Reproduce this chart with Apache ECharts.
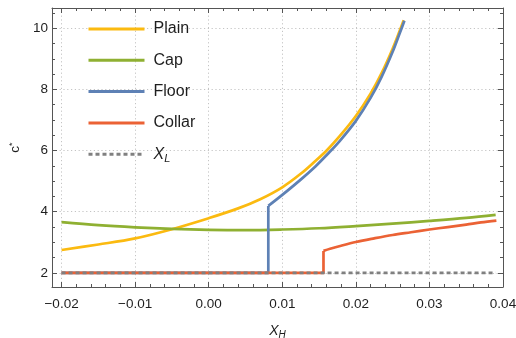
<!DOCTYPE html>
<html>
<head>
<meta charset="utf-8">
<script src="https://cdn.jsdelivr.net/npm/echarts@6/dist/echarts.min.js"></script>
<style>html,body{margin:0;padding:0;background:#fff}#c{width:516px;height:338px}</style>
</head>
<body>
<div id="c"></div>
<script>
// ---- data ----
const seriesNames = ['Plain', 'Cap', 'Floor', 'Collar', 'XL'];

const plainX = [-0.02, -0.015, -0.01, -0.005, 0, 0.004, 0.007, 0.01, 0.0125, 0.0145, 0.0161, 0.0178, 0.02, 0.022, 0.0235, 0.025, 0.026, 0.0265];
const plainY = [2.75, 2.93, 3.13, 3.43, 3.79, 4.11, 4.41, 4.80, 5.24, 5.66, 6.02, 6.47, 7.13, 7.86, 8.53, 9.33, 9.94, 10.26];

const capX = [-0.02, -0.015, -0.01, -0.005, 0, 0.005, 0.01, 0.015, 0.02, 0.025, 0.03, 0.035, 0.039];
const capY = [3.66, 3.56, 3.49, 3.44, 3.41, 3.40, 3.42, 3.46, 3.53, 3.61, 3.70, 3.80, 3.90];

// Floor: flat part + jump, then the rising branch
const floorStepX = [-0.02, 0.0081, 0.0081];
const floorStepY = [2, 2, 4.19];
const floorX = [0.0081, 0.01, 0.0125, 0.0145, 0.0161, 0.0178, 0.02, 0.022, 0.0235, 0.025, 0.026, 0.0266];
const floorY = [4.19, 4.55, 5.05, 5.48, 5.87, 6.31, 6.97, 7.72, 8.41, 9.23, 9.86, 10.24];

// Collar: flat part + jump, then the rising branch
const collarStepX = [-0.02, 0.0156, 0.0156];
const collarStepY = [2, 2, 2.72];
const collarX = [0.0156, 0.0165, 0.018, 0.02, 0.0225, 0.025, 0.0275, 0.03, 0.0325, 0.035, 0.037, 0.0391];
const collarY = [2.72, 2.79, 2.89, 3.01, 3.13, 3.24, 3.33, 3.42, 3.50, 3.58, 3.65, 3.71];

const xlX = [-0.02, 0.039];
const xlY = [2, 2];

const xTicks = [-0.02, -0.01, 0, 0.01, 0.02, 0.03, 0.04];
const yTicks = [2, 4, 6, 8, 10];
const xRange = [-0.0213, 0.04];
const yRange = [1.54, 10.66];

// minor tick positions
const xMinor = [];
for (let i = -11; i <= 20; i++) { if (i % 5 !== 0) xMinor.push(+(i * 0.002).toFixed(4)); }
const yMinor = [];
for (let i = 4; i <= 21; i++) { if (i % 4 !== 0) yMinor.push(i * 0.5); }

const colors = { Plain: '#FBBA10', Cap: '#8FB032', Floor: '#5E81B5', Collar: '#EB6235', XL: '#808080' };
const FONT = '"Liberation Sans", Arial, sans-serif';
const frameColor = '#555';
const textColor = '#1e1e1e';

function pairs(xs, ys) { return xs.map((x, i) => [x, ys[i]]); }

const chart = echarts.init(document.getElementById('c'));

function xAxisDef(pos, major, extra) {
  return Object.assign({
    type: 'value', position: pos, min: xRange[0], max: xRange[1],
    axisLine: { show: major, onZero: false, lineStyle: { color: frameColor, width: 1 } },
    axisTick: { show: true, inside: true, length: major ? 5 : 3, customValues: major ? xTicks : xMinor, lineStyle: { color: frameColor, width: 1 } },
    axisLabel: { show: false },
    splitLine: { show: false }
  }, extra || {});
}
function yAxisDef(pos, major, extra) {
  return Object.assign({
    type: 'value', position: pos, min: yRange[0], max: yRange[1],
    axisLine: { show: major, onZero: false, lineStyle: { color: frameColor, width: 1 } },
    axisTick: { show: true, inside: true, length: major ? 5 : 3, customValues: major ? yTicks : yMinor, lineStyle: { color: frameColor, width: 1 } },
    axisLabel: { show: false },
    splitLine: { show: false }
  }, extra || {});
}

const gridLine = { show: true, lineStyle: { color: '#c4c4c4', width: 1, type: [1.2, 2.6] } };

function lineSeries(name, data, opts) {
  return Object.assign({
    name: name, type: 'line', data: data, xAxisIndex: 0, yAxisIndex: 0,
    symbol: 'none', showSymbol: false, smooth: false,
    color: colors[name],
    lineStyle: { color: colors[name], width: 2.7, type: 'solid', cap: 'butt', join: 'round' },
    emphasis: { disabled: true }
  }, opts || {});
}

const option = {
  animation: false,
  backgroundColor: '#fff',
  grid: { left: 52, right: 13, top: 8, bottom: 51, containLabel: false, outerBoundsMode: 'none' },
  xAxis: [
    xAxisDef('bottom', true, {
      splitLine: gridLine,
      axisLabel: {
        show: true, customValues: xTicks, margin: 10, fontSize: 13.5, color: textColor, fontFamily: FONT,
        formatter: v => (v < 0 ? '\u2212' : '') + Math.abs(v).toFixed(2)
      },
      name: '{i|X}{s|H}', nameLocation: 'middle', nameGap: 35,
      nameTextStyle: {
        fontFamily: FONT, color: textColor,
        rich: {
          i: { fontStyle: 'italic', fontSize: 14, fontFamily: FONT, color: textColor },
          s: { fontStyle: 'italic', fontSize: 10, fontFamily: FONT, color: textColor, padding: [8, 0, 0, 0] }
        }
      }
    }),
    xAxisDef('bottom', false),
    xAxisDef('top', true),
    xAxisDef('top', false)
  ],
  yAxis: [
    yAxisDef('left', true, {
      splitLine: gridLine,
      axisLabel: { show: true, customValues: yTicks, margin: 4, fontSize: 13.5, color: textColor, fontFamily: FONT },
      name: '{c|c}{s|*}', nameLocation: 'middle', nameGap: 29, nameRotate: 90,
      nameTextStyle: {
        fontFamily: FONT, color: textColor,
        rich: {
          c: { fontSize: 13.5, fontFamily: FONT, color: textColor },
          s: { fontSize: 9, fontFamily: FONT, color: textColor, padding: [0, 0, 6, 0] }
        }
      }
    }),
    yAxisDef('left', false),
    yAxisDef('right', true),
    yAxisDef('right', false)
  ],
  legend: {
    orient: 'vertical', left: 87, top: 21, padding: 0,
    itemWidth: 56, itemHeight: 14, itemGap: 15.3,
    data: seriesNames,
    itemStyle: { opacity: 0, borderWidth: 0 },
    lineStyle: { width: 3 },
    formatter: n => n === 'XL' ? '{i|X}{s|L}' : n,
    textStyle: {
      fontSize: 16, color: textColor, fontFamily: FONT, padding: [0, 0, 0, 4],
      rich: {
        i: { fontStyle: 'italic', fontSize: 16, fontFamily: FONT, color: textColor },
        s: { fontStyle: 'italic', fontSize: 11, fontFamily: FONT, color: textColor, padding: [9, 0, 0, 0] }
      }
    }
  },
  series: [
    lineSeries('Plain', pairs(plainX, plainY), { smooth: 0.35 }),
    lineSeries('Cap', pairs(capX, capY), { smooth: 0.35 }),
    lineSeries('Floor', pairs(floorStepX, floorStepY)),
    lineSeries('Floor', pairs(floorX, floorY), { smooth: 0.35 }),
    lineSeries('Collar', pairs(collarStepX, collarStepY)),
    lineSeries('Collar', pairs(collarX, collarY), { smooth: 0.35 }),
    lineSeries('XL', pairs(xlX, xlY), { lineStyle: { color: colors.XL, width: 2.7, type: [4, 3], cap: 'butt' } })
  ]
};
chart.setOption(option);
</script>
</body>
</html>
